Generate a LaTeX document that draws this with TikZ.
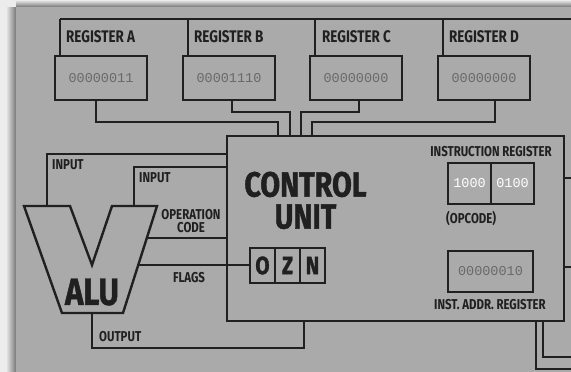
\documentclass[tikz,border=0pt]{standalone}
\usepackage{fontspec}
\usetikzlibrary{calc}
\newfontfamily\cond{Fira Sans}[FakeStretch=0.8]
\newfontfamily\heavy{Fira Sans}[FakeStretch=0.82, FakeBold=1.2]
\newfontfamily\mono{Liberation Mono}
\definecolor{panel}{RGB}{170,170,170}
\definecolor{outer}{RGB}{236,236,236}
\definecolor{ink}{RGB}{32,32,32}
\definecolor{valgray}{RGB}{105,105,105}
\tikzset{
  ln/.style={draw=ink, line width=2.4pt},
  regbox/.style={draw=ink, line width=2.4pt, inner sep=0pt, minimum width=92pt, minimum height=44pt, text=valgray, font=\mono\fontsize{13.5}{14}\selectfont},
  bitbox/.style={draw=ink, line width=2.4pt, inner sep=0pt, minimum width=43pt, minimum height=41pt, text=white, font=\mono\fontsize{13.5}{14}\selectfont},
  flagbox/.style={draw=ink, line width=2.4pt, inner sep=0pt, minimum width=25pt, minimum height=35pt, text=ink, font=\heavy\bfseries\fontsize{25}{26}\selectfont},
  reglab/.style={anchor=west, inner sep=0pt, text=ink, font=\cond\bfseries\fontsize{16.8}{18}\selectfont},
  lab/.style={inner sep=0pt, text=ink, font=\cond\bfseries\fontsize{14.3}{14}\selectfont},
  biglab/.style={inner sep=0pt, text=ink, font=\heavy\bfseries\fontsize{35}{32}\selectfont}
}
\begin{document}
\begin{tikzpicture}[x=1pt,y=-1pt]
\useasboundingbox (0,0) rectangle (571,372);
\fill[outer] (0,0) rectangle (571,372);
\shade[left color=outer, right color=panel!70!black] (6,7) rectangle (16,372);
\shade[top color=outer, bottom color=panel!70!black] (16,0) rectangle (571,7);
\fill[panel] (16,7) rectangle (571,372);

% registers
\node[regbox] (regA) at (101,78) {00000011};
\node[regbox] (regB) at (229,78) {00001110};
\node[regbox] (regC) at (356,78) {00000000};
\node[regbox] (regD) at (484,78) {00000000};
\node[reglab] (labA) at (66,37) {REGISTER A};
\node[reglab] (labB) at (194,37) {REGISTER B};
\node[reglab] (labC) at (322,37) {REGISTER C};
\node[reglab] (labD) at (449,37) {REGISTER D};

% bus
\coordinate (tapA) at (60,19);
\coordinate (tapB) at (188,19);
\coordinate (tapC) at (315,19);
\coordinate (tapD) at (443,19);
\coordinate (busEnd) at (571,19);
\draw[ln] (tapA) -- (busEnd);
\draw[ln] (tapA) -- (tapA |- regA.north);
\draw[ln] (tapB) -- (tapB |- regB.north);
\draw[ln] (tapC) -- (tapC |- regC.north);
\draw[ln] (tapD) -- (tapD |- regD.north);

% control unit
\node[draw=ink, line width=2.4pt, minimum width=337pt, minimum height=185pt, inner sep=0pt] (cu) at (395.5,228.5) {};
\node[biglab, align=center, anchor=north] (cut) at (305.5,171.5) {CONTROL\\UNIT};

\coordinate (cuA) at (278,136);
\coordinate (cuB) at (290,136);
\coordinate (cuC) at (301,136);
\coordinate (cuD) at (312,136);
\draw[ln] ([xshift=-5pt]regA.south) -- ++(0,21) -| (cuA);
\draw[ln] ([xshift=3pt]regB.south) -- ++(0,11) -| (cuB);
\draw[ln] ([xshift=3pt]regC.south) -- ++(0,11) -| (cuC);
\draw[ln] ([xshift=11pt]regD.south) -- ++(0,21) -| (cuD);

% instruction register
\node[lab] (irlab) at (491,152) {INSTRUCTION REGISTER};
\node[bitbox] (ir1) at (469.5,183.5) {1000};
\node[bitbox] (ir2) at (512.5,183.5) {0100};
\node[lab, anchor=west] (opc) at (446,218) {(OPCODE)};
\node[regbox, minimum width=85pt, minimum height=41pt] (iar) at (490.5,271.5) {00000010};
\node[lab] (iarlab) at (490,305) {INST. ADDR. REGISTER};

% flags
\node[flagbox] (fo) at (262.5,265.5) {O};
\node[flagbox] (fz) at (287.5,265.5) {Z};
\node[flagbox] (fn) at (312.5,265.5) {N};

% right exits
\coordinate (ex1) at (571,178);
\coordinate (ex2) at (571,267);
\coordinate (ex3) at (571,357);
\coordinate (ex4) at (571,369);
\draw[ln] (cu.east |- ex1) -- (ex1);
\draw[ln] (cu.east |- ex2) -- (ex2);
\draw[ln] (cu.south -| 543,0) |- (ex3);
\draw[ln] (cu.south -| 536,0) |- (ex4);

% ALU
\coordinate (aTL) at (24,206);
\coordinate (aT1) at (70,206);
\coordinate (aV) at (92,265);
\coordinate (aT2) at (112,206);
\coordinate (aTR) at (157,206);
\coordinate (aBR) at (123,313);
\coordinate (aBL) at (62,313);
\draw[ln, line join=miter] (aTL) -- (aT1) -- (aV) -- (aT2) -- (aTR) -- (aBR) -- (aBL) -- cycle;
\node[biglab, font=\heavy\bfseries\fontsize{38}{38}\selectfont] (alu) at (92,292) {ALU};

\coordinate (in1) at (47,206);
\coordinate (in2) at (134,206);
\coordinate (opIn) at ($(aTR)!0.299!(aBR)$);
\coordinate (flIn) at ($(aTR)!0.551!(aBR)$);
\coordinate (outA) at (92,313);
\coordinate (cuOut) at (304,321);
\draw[ln] (in1) |- (cu.west |- 0,154);
\draw[ln] (in2) |- (cu.west |- 0,167);
\draw[ln] (opIn) -- (cu.west |- opIn);
\draw[ln] (flIn) -- (fo.west |- flIn);
\draw[ln] (outA) -- ++(0,35) -| (cuOut);

\node[lab, anchor=west] (inl1) at (52,165) {INPUT};
\node[lab, anchor=west] (inl2) at (139,178) {INPUT};
\node[lab, align=center, font=\cond\bfseries\fontsize{14.3}{13}\selectfont] (opl) at (191,221) {OPERATION\\CODE};
\node[lab] (fll) at (189,278) {FLAGS};
\node[lab, anchor=west] (outl) at (99,337) {OUTPUT};
\end{tikzpicture}
\end{document}
